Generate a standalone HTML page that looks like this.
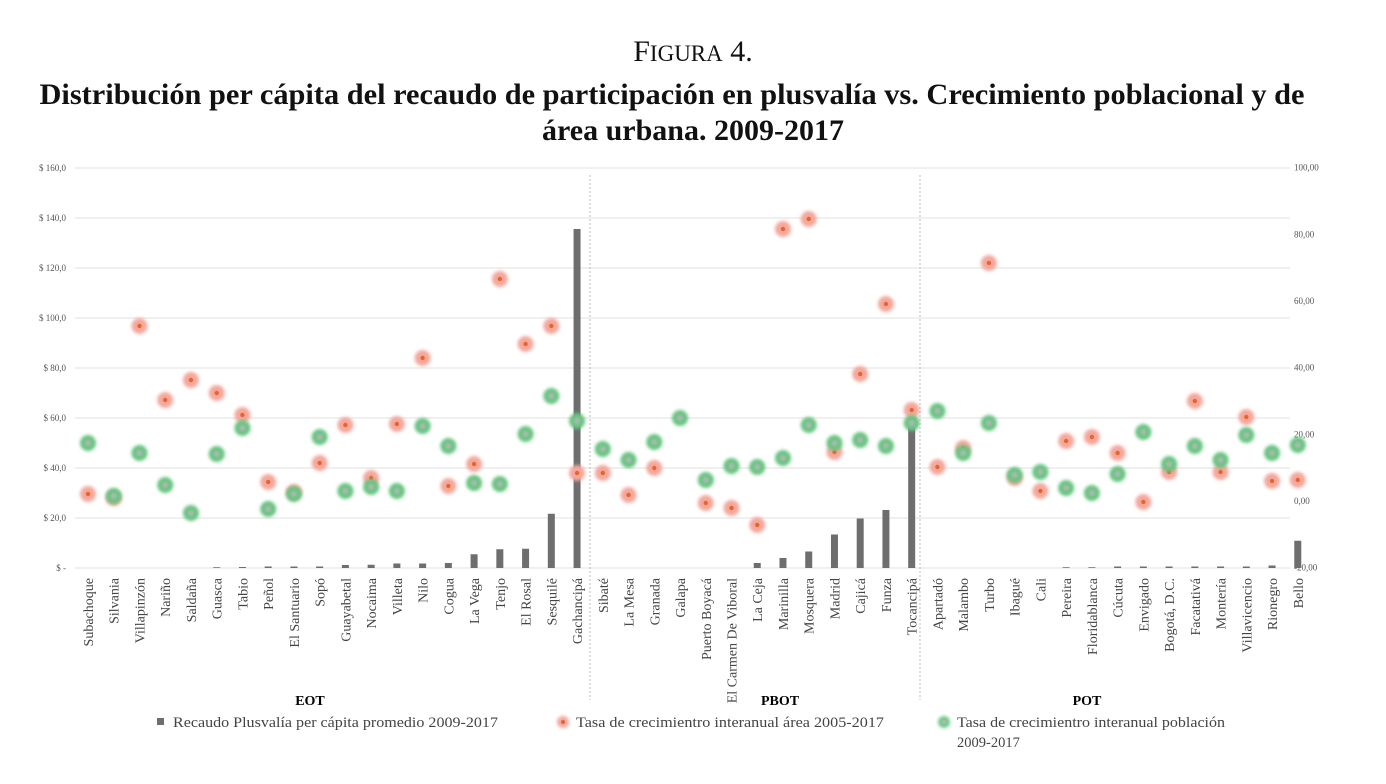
<!DOCTYPE html>
<html><head><meta charset="utf-8"><style>
body{margin:0;background:#fff;width:1386px;height:784px;overflow:hidden}
svg{display:block;font-family:"Liberation Serif",serif}
</style></head><body>
<svg id="c" width="1386" height="784" viewBox="0 0 1386 784">
<defs>
<filter id="bl" x="-50%" y="-50%" width="200%" height="200%"><feGaussianBlur stdDeviation="1.6"/></filter>
</defs>
<text x="693" y="61" text-anchor="middle" font-size="30" fill="#111">F<tspan font-size="23">IGURA</tspan> 4.</text>
<text x="672" y="104" text-anchor="middle" font-size="30" font-weight="bold" fill="#111" textLength="1265" lengthAdjust="spacingAndGlyphs">Distribución per cápita del recaudo de participación en plusvalía vs. Crecimiento poblacional y de</text>
<text x="693" y="140" text-anchor="middle" font-size="30" font-weight="bold" fill="#111">área urbana. 2009-2017</text>
<g id="grid"></g><g id="bars"></g><g id="dots"></g><g id="labels"></g>
<line x1="590" y1="175" x2="590" y2="700" stroke="#bbb" stroke-dasharray="2,2"/>
<line x1="920" y1="175" x2="920" y2="700" stroke="#bbb" stroke-dasharray="2,2"/>
<text x="310" y="705" text-anchor="middle" font-size="14" font-weight="bold">EOT</text>
<text x="780" y="705" text-anchor="middle" font-size="14" font-weight="bold">PBOT</text>
<text x="1087" y="705" text-anchor="middle" font-size="14" font-weight="bold">POT</text>
<g>
<rect x="157" y="718" width="7" height="7" fill="#6e6e6e"/>
<text x="173" y="727" font-size="14.5" fill="#444" textLength="325" lengthAdjust="spacingAndGlyphs">Recaudo Plusvalía per cápita promedio 2009-2017</text>
<circle cx="563" cy="722" r="6" fill="#f4a79c" filter="url(#bl)"/><circle cx="563" cy="722" r="2" fill="#e8652a"/>
<text x="576" y="727" font-size="14.5" fill="#444" textLength="308" lengthAdjust="spacingAndGlyphs">Tasa de crecimientro interanual área 2005-2017</text>
<circle cx="944" cy="722" r="6" fill="#72c98a" filter="url(#bl)"/><circle cx="944" cy="722" r="2" fill="#b5b5b5"/>
<text x="957" y="727" font-size="14.5" fill="#444" textLength="268" lengthAdjust="spacingAndGlyphs">Tasa de crecimientro interanual población</text>
<text x="957" y="747" font-size="14.5" fill="#444">2009-2017</text>
</g>
</svg>
<script>
const categories=["Subachoque","Silvania","Villapinzón","Nariño","Saldaña","Guasca","Tabio","Peñol","El Santuario","Sopó","Guayabetal","Nocaima","Villeta","Nilo","Cogua","La Vega","Tenjo","El Rosal","Sesquilé","Gachancipá","Sibaté","La Mesa","Granada","Galapa","Puerto Boyacá","El Carmen De Viboral","La Ceja","Marinilla","Mosquera","Madrid","Cajicá","Funza","Tocancipá","Apartadó","Malambo","Turbo","Ibagué","Cali","Pereira","Floridablanca","Cúcuta","Envigado","Bogotá, D.C.","Facatativá","Montería","Villavicencio","Rionegro","Bello"];
const recaudo=[0,0,0,0,0,0.3,0.4,0.6,0.6,0.6,1.2,1.3,1.8,1.8,2,5.5,7.5,7.7,21.7,135.6,0,0,0,0,0,0,2,4,6.6,13.4,19.8,23.2,60,0,0,0,0,0,0.3,0.3,0.6,0.6,0.6,0.6,0.6,0.6,1,10.9];
const areaRate=[2.1,0.9,52.5,30.3,36.3,32.4,25.8,5.7,2.7,11.4,22.8,6.9,23.1,42.9,4.5,11.1,66.6,47.1,52.5,8.4,8.4,1.8,9.9,null,-0.6,-2.1,-7.2,81.6,84.6,14.7,38.1,59.1,27.3,10.2,15.9,71.4,6.9,3,18,19.2,14.4,-0.3,8.7,30,8.7,25.2,6,6.3];
const popRate=[17.4,1.5,14.4,4.8,-3.6,14.1,21.9,-2.4,2.1,19.2,3,4.2,3,22.5,16.5,5.4,5.1,20.1,31.5,24,15.6,12.3,17.7,24.9,6.3,10.5,10.2,12.9,22.8,17.4,18.3,16.5,23.4,27,14.4,23.4,7.8,8.7,3.9,2.4,8.1,20.7,11.1,16.5,12.3,19.8,14.4,16.8];
const leftTicks=[0,20,40,60,80,100,120,140,160];
const leftTickLabels=["$ -","$ 20,0","$ 40,0","$ 60,0","$ 80,0","$ 100,0","$ 120,0","$ 140,0","$ 160,0"];
const rightTicks=[-20,0,20,40,60,80,100];
const rightTickLabels=["-20,00","0,00","20,00","40,00","60,00","80,00","100,00"];

const NS="http://www.w3.org/2000/svg";
const yL=v=>568-v*2.5;
const yR=v=>501-v*(400/120);
const xC=i=>88+i*25.74;
function mk(tag,attrs,parent){const e=document.createElementNS(NS,tag);for(const k in attrs)e.setAttribute(k,attrs[k]);parent.appendChild(e);return e;}
const grid=document.getElementById('grid'),bars=document.getElementById('bars'),dots=document.getElementById('dots'),labels=document.getElementById('labels');
leftTicks.forEach((t,i)=>{
  const l=mk('line',{x1:75,x2:1290,y1:yL(t),y2:yL(t),stroke:'#e6e6e6','stroke-width':1.3},grid);
  
  
  const tx=mk('text',{x:66,y:yL(t)+3,'text-anchor':'end','font-size':9,fill:'#555'},grid);
  tx.textContent=leftTickLabels[i];
  
  
});
rightTicks.forEach((t,i)=>{
  const tx=mk('text',{x:1294,y:yR(t)+3,'font-size':9,fill:'#555'},grid);
  tx.textContent=rightTickLabels[i];
  
  
});
categories.forEach((c,i)=>{
  const x=xC(i);
  if(recaudo[i]>0){
    const b=mk('rect',{x:x-3.5,y:yL(recaudo[i]),width:7,height:568-yL(recaudo[i]),fill:'#6e6e6e'},bars);
    
    
  }
  const t=mk('text',{transform:`translate(${x+5},578) rotate(-90)`,'text-anchor':'end','font-size':14,fill:'#444'},labels);
  t.textContent=c;
  
  
});
categories.forEach((c,i)=>{
  const x=xC(i);
  if(areaRate[i]!==null){
    const g=mk('g',{},dots);
    
    
    mk('circle',{cx:x,cy:yR(areaRate[i]),r:8,fill:'#f4a79c',filter:'url(#bl)'},g);
    mk('circle',{cx:x,cy:yR(areaRate[i]),r:2.2,fill:'#e8652a'},g);
  }
  const g2=mk('g',{},dots);
  
  
  mk('circle',{cx:x,cy:yR(popRate[i]),r:8,fill:'#66c480',filter:'url(#bl)'},g2);
  mk('circle',{cx:x,cy:yR(popRate[i]),r:3,fill:'#b8b8b8',filter:'url(#bl)'},g2);
});
</script>
</body></html>
